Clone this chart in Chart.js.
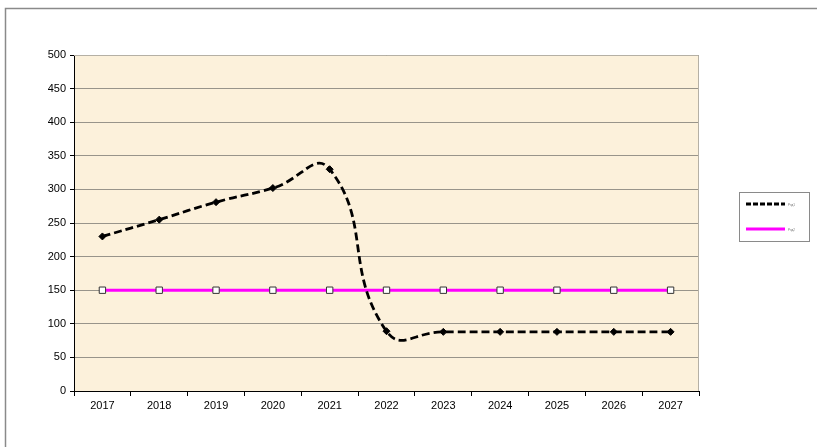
<!DOCTYPE html>
<html>
<head>
<meta charset="utf-8">
<script src="https://cdn.jsdelivr.net/npm/chart.js@4/dist/chart.umd.min.js"></script>
<style>
  html, body { margin: 0; padding: 0; background: #ffffff; }
  canvas { display: block; }
</style>
</head>
<body>
<canvas id="chart" width="817" height="447"></canvas>
<script>
// Years along the horizontal axis
const years = ['2017', '2018', '2019', '2020', '2021', '2022', '2023', '2024', '2025', '2026', '2027'];

// Series values
const series1Values = [230, 255, 281, 302, 330, 89, 88, 88, 88, 88, 88];
const series2Values = [150, 150, 150, 150, 150, 150, 150, 150, 150, 150, 150];

// Series names
const series1Name = 'Ряд1';
const series2Name = 'Ряд2';

// Vertical axis range
const yMin = 0;
const yMax = 500;
const yStep = 50;

// Outer frame, plot background and plot border
const framePlugin = {
  id: 'frame',
  beforeDraw(chart) {
    const { ctx, chartArea: a } = chart;
    ctx.save();
    ctx.fillStyle = '#ffffff';
    ctx.fillRect(0, 0, chart.width, chart.height);
    ctx.strokeStyle = '#8a8a8a';
    ctx.lineWidth = 1.5;
    ctx.beginPath();
    ctx.moveTo(5.5, chart.height + 5);
    ctx.lineTo(5.5, 8.5);
    ctx.lineTo(chart.width + 5, 8.5);
    ctx.stroke();
    ctx.fillStyle = '#fcf1db';
    ctx.fillRect(a.left, a.top, a.right - a.left, a.bottom - a.top);
    ctx.restore();
  },
  beforeDatasetsDraw(chart) {
    const { ctx, chartArea: a } = chart;
    ctx.save();
    ctx.strokeStyle = '#b5b0a5';
    ctx.lineWidth = 1;
    ctx.beginPath();
    ctx.moveTo(a.left, a.top + 0.5);
    ctx.lineTo(a.right - 0.5, a.top + 0.5);
    ctx.lineTo(a.right - 0.5, a.bottom);
    ctx.stroke();
    ctx.restore();
  }
};

// Boxed legend on the right, built from the datasets
const boxLegendPlugin = {
  id: 'boxLegend',
  afterDraw(chart) {
    const { ctx } = chart;
    const x = 739.5, y = 192.5, w = 70, h = 49;
    ctx.save();
    ctx.fillStyle = '#ffffff';
    ctx.fillRect(x, y, w, h);
    ctx.strokeStyle = '#8a8a8a';
    ctx.lineWidth = 1;
    ctx.strokeRect(x, y, w, h);
    const rows = [204, 229];
    chart.data.datasets.forEach((ds, i) => {
      const ly = rows[i];
      ctx.strokeStyle = ds.borderColor;
      ctx.lineWidth = 3;
      ctx.setLineDash(ds.borderDash ? [5, 2] : []);
      ctx.beginPath();
      ctx.moveTo(746, ly);
      ctx.lineTo(785, ly);
      ctx.stroke();
      ctx.setLineDash([]);
      ctx.fillStyle = '#777777';
      ctx.font = '3px "Liberation Sans", Arial, sans-serif';
      ctx.textBaseline = 'middle';
      ctx.fillText(ds.label, 788, ly + 1);
    });
    ctx.restore();
  }
};

new Chart(document.getElementById('chart'), {
  type: 'line',
  data: {
    labels: years,
    datasets: [
      {
        label: series1Name,
        data: series1Values,
        borderColor: '#000000',
        borderWidth: 2.8,
        borderDash: [8, 4],
        tension: 0.5,
        pointStyle: 'rectRot',
        pointRadius: 3.5,
        pointBackgroundColor: '#000000',
        pointBorderColor: '#000000',
        pointBorderWidth: 1
      },
      {
        label: series2Name,
        data: series2Values,
        borderColor: '#ff00ff',
        borderWidth: 3,
        tension: 0.5,
        pointStyle: 'rect',
        pointRadius: 4.5,
        pointBackgroundColor: '#ffffff',
        pointBorderColor: '#333333',
        pointBorderWidth: 1
      }
    ]
  },
  options: {
    responsive: false,
    animation: false,
    layout: { padding: { left: 0, top: 55, right: 118, bottom: 0 } },
    plugins: {
      legend: { display: false },
      tooltip: { enabled: false }
    },
    scales: {
      x: {
        type: 'category',
        offset: true,
        afterFit(s) { s.height = 56; },
        grid: {
          offset: true,
          drawOnChartArea: false,
          drawTicks: true,
          tickLength: 5,
          color: '#000000'
        },
        border: { display: true, color: '#000000', width: 1 },
        ticks: {
          color: '#000000',
          padding: 3,
          font: { family: '"Liberation Sans", Arial, sans-serif', size: 11 }
        }
      },
      y: {
        min: yMin,
        max: yMax,
        afterFit(s) { s.width = 74; },
        grid: {
          color: (c) => c.tick && c.tick.value === yMin ? '#000000' : '#98948a',
          tickColor: '#000000',
          tickLength: 4,
          lineWidth: 1
        },
        border: { display: true, color: '#000000', width: 1 },
        ticks: {
          stepSize: yStep,
          color: '#000000',
          padding: 4,
          font: { family: '"Liberation Sans", Arial, sans-serif', size: 11 }
        }
      }
    }
  },
  plugins: [framePlugin, boxLegendPlugin]
});
</script>
</body>
</html>
